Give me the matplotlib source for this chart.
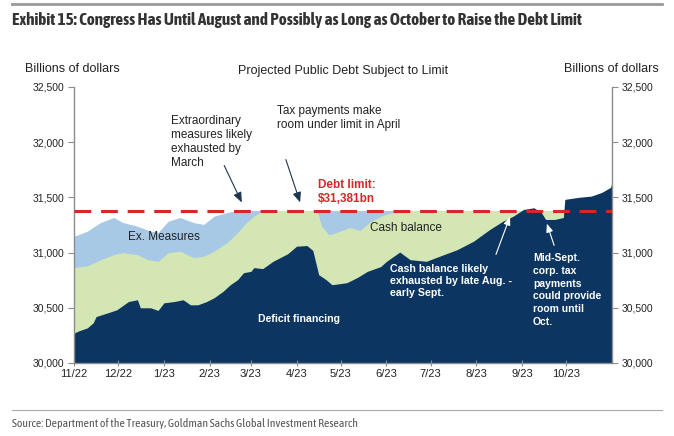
import matplotlib
matplotlib.use("Agg")
import matplotlib.pyplot as plt
from matplotlib import font_manager as fm
import pandas as pd

# ---------------- data (billions of dollars) ----------------
debt_limit = 31381

deficit_dates = ["2022-11-01", "2022-11-04", "2022-11-10", "2022-11-14", "2022-11-16", "2022-11-24",
                 "2022-11-30", "2022-12-08", "2022-12-14", "2022-12-16", "2022-12-23", "2022-12-28",
                 "2023-01-01", "2023-01-08", "2023-01-14", "2023-01-19", "2023-01-24", "2023-01-30",
                 "2023-02-04", "2023-02-10", "2023-02-15", "2023-02-20", "2023-02-24", "2023-03-01",
                 "2023-03-03", "2023-03-09", "2023-03-16", "2023-03-26", "2023-04-01", "2023-04-08",
                 "2023-04-12", "2023-04-16", "2023-04-21", "2023-04-25", "2023-05-05", "2023-05-12",
                 "2023-05-19", "2023-05-28", "2023-06-01", "2023-06-10", "2023-06-17", "2023-06-28",
                 "2023-07-07", "2023-07-19", "2023-07-30", "2023-08-10", "2023-08-19", "2023-08-26",
                 "2023-09-02", "2023-09-09", "2023-09-14", "2023-09-17", "2023-09-23", "2023-09-29",
                 "2023-09-30", "2023-10-09", "2023-10-18", "2023-10-25", "2023-10-31", "2023-11-01"]
deficit_top = [30270, 30290, 30318, 30364, 30421, 30455,
               30482, 30557, 30573, 30500, 30500, 30476,
               30545, 30557, 30573, 30527, 30527, 30557,
               30591, 30648, 30709, 30755, 30818, 30830,
               30864, 30855, 30921, 30990, 31058, 31064,
               31020, 30800, 30755, 30709, 30727, 30773,
               30830, 30873, 30921, 31005, 30936, 30921,
               30967, 31027, 31103, 31209, 31285, 31330,
               31391, 31406, 31364, 31300, 31300, 31318,
               31482, 31500, 31512, 31545, 31591, 31636]

cash_dates = ["2022-11-01", "2022-11-10", "2022-11-19", "2022-11-28", "2022-12-04", "2022-12-14",
              "2022-12-21", "2022-12-28", "2023-01-04", "2023-01-12", "2023-01-21", "2023-01-28",
              "2023-02-04", "2023-02-13", "2023-02-20", "2023-02-26", "2023-03-03", "2023-03-09",
              "2023-04-15", "2023-04-18", "2023-04-23", "2023-04-28", "2023-05-07", "2023-05-14",
              "2023-05-21", "2023-05-30", "2023-06-07", "2023-06-13", "2023-11-01"]
cash_top = [30864, 30880, 30936, 30982, 31000, 30982,
            30936, 30921, 31000, 31012, 30955, 30967,
            31012, 31091, 31182, 31273, 31330, 31381,
            31381, 31239, 31160, 31182, 31227, 31200,
            31280, 31340, 31370, 31381, 31381]

exm_dates = ["2022-11-01", "2022-11-10", "2022-11-19", "2022-11-28", "2022-12-04", "2022-12-14",
             "2022-12-23", "2022-12-28", "2023-01-04", "2023-01-12", "2023-01-21", "2023-01-28",
             "2023-02-04", "2023-02-13", "2023-02-20", "2023-11-01"]
exm_top = [31148, 31194, 31273, 31318, 31273, 31239,
           31194, 31182, 31285, 31318, 31273, 31255,
           31330, 31364, 31381, 31381]

month_ticks = ["2022-11-01", "2022-12-01", "2023-01-01", "2023-02-01", "2023-03-01", "2023-04-01",
               "2023-05-01", "2023-06-01", "2023-07-01", "2023-08-01", "2023-09-01", "2023-10-01"]
month_labels = ["11/22", "12/22", "1/23", "2/23", "3/23", "4/23",
                "5/23", "6/23", "7/23", "8/23", "9/23", "10/23"]
y_ticks = [30000, 30500, 31000, 31500, 32000, 32500]

TITLE = "Exhibit 15: Congress Has Until August and Possibly as Long as October to Raise the Debt Limit"
SOURCE = "Source: Department of the Treasury, Goldman Sachs Global Investment Research"

# ---------------- styling ----------------
NAVY = "#0c3561"
GREEN = "#d3e6b4"
LBLUE = "#a7c9e6"
RED = "#d9262a"
GRAY = "#8c8c8c"
TXT = "#222222"

plt.rcParams["font.family"] = ["Liberation Sans", "DejaVu Sans"]

# find a narrow/condensed face if installed, preferring one that has a bold weight
def _w(v):
    try:
        return int(v)
    except (TypeError, ValueError):
        return 700 if "bold" in str(v).lower() else 400

narrow = {}
for f in fm.fontManager.ttflist:
    n = f.name.lower()
    if "narrow" in n or "condensed" in n:
        narrow.setdefault(f.name, set()).add(_w(f.weight))
narrow_family = None
for name, ws in narrow.items():
    if max(ws) >= 600:
        narrow_family = name
        break
if narrow_family is None and narrow:
    narrow_family = next(iter(narrow))
if narrow_family is None:
    narrow_family = "Liberation Sans"

fig = plt.figure(figsize=(6.74, 4.36), dpi=100)
ax = fig.add_axes([74 / 674, 1 - 363 / 436, (612 - 74) / 674, (363 - 87) / 436])

d_def = pd.to_datetime(deficit_dates)
d_cash = pd.to_datetime(cash_dates)
d_exm = pd.to_datetime(exm_dates)

ax.fill_between(d_exm, 30000, exm_top, color=LBLUE, lw=0)
ax.fill_between(d_cash, 30000, cash_top, color=GREEN, lw=0)
ax.fill_between(d_def, 30000, deficit_top, color=NAVY, lw=0)
ax.axhline(debt_limit, color=RED, lw=2.2, dashes=(5.5, 3.2), zorder=5)

ax.set_xlim(pd.Timestamp("2022-11-01"), pd.Timestamp("2023-11-01"))
ax.set_ylim(30000, 32500)
ax.set_xticks(pd.to_datetime(month_ticks))
ax.set_xticklabels(month_labels, fontsize=8, color=TXT)
ax.set_yticks(y_ticks)
ax.set_yticklabels([f"{v:,}" for v in y_ticks], fontsize=7.5, color=TXT)
ax.tick_params(axis="y", direction="out", length=4, color=GRAY, pad=3,
               left=True, right=True, labelleft=True, labelright=True)
ax.tick_params(axis="x", direction="inout", length=4, color=GRAY, pad=2)
for s in ["left", "right", "bottom"]:
    ax.spines[s].set_color(GRAY)
    ax.spines[s].set_linewidth(1)
ax.spines["top"].set_visible(False)

# ---------------- annotations ----------------
H = 436
ax_kw = dict(xycoords="figure pixels", textcoords="figure pixels")

def fp(x, y):
    return (x, H - y)

ax.text(128, H - 237, "Ex. Measures", transform=None, fontsize=8.5, color=TXT, va="center")
ax.text(370, H - 228, "Cash balance", transform=None, fontsize=8.5, color=TXT, va="center")
ax.text(258, H - 319, "Deficit financing", transform=None, fontsize=7.6, color="white",
        fontweight="bold", va="center")
ax.text(318, H - 192, "Debt limit:\n$31,381bn", transform=None, fontsize=8.5, color=RED,
        fontweight="bold", va="center", linespacing=1.25)
ax.text(171, H - 142, "Extraordinary\nmeasures likely\nexhausted by\nMarch", transform=None,
        fontsize=8.5, color=TXT, va="center", linespacing=1.2)
ax.text(277, H - 118, "Tax payments make\nroom under limit in April", transform=None,
        fontsize=8.5, color=TXT, va="center", linespacing=1.2)
ax.text(390, H - 281, "Cash balance likely\nexhausted by late Aug. -\nearly Sept.", transform=None,
        fontsize=7.7, color="white", fontweight="bold", va="center", linespacing=1.3)
ax.text(533, H - 290, "Mid-Sept.\ncorp. tax\npayments\ncould provide\nroom until\nOct.",
        transform=None, fontsize=7.5, color="white", fontweight="bold", va="center", linespacing=1.35)

arrow_dark = dict(arrowstyle="-|>,head_length=0.6,head_width=0.25", color="#1e3550", lw=0.8)
arrow_white = dict(arrowstyle="-|>,head_length=0.5,head_width=0.2", color="white", lw=0.8)
ax.annotate("", xy=fp(243, 205), xytext=fp(223, 163), arrowprops=arrow_dark, **ax_kw)
ax.annotate("", xy=fp(301, 205), xytext=fp(285, 157), arrowprops=arrow_dark, **ax_kw)
ax.annotate("", xy=fp(511, 214), xytext=fp(495, 257), arrowprops=arrow_white, **ax_kw)
ax.annotate("", xy=fp(546, 221), xytext=fp(555, 248), arrowprops=arrow_white, **ax_kw)

# ---------------- figure texts ----------------
fig.text(25 / 674, 1 - 69 / 436, "Billions of dollars", fontsize=9, color=TXT, va="center")
fig.text(659 / 674, 1 - 69 / 436, "Billions of dollars", fontsize=9, color=TXT, va="center", ha="right")
fig.text(343 / 674, 1 - 71 / 436, "Projected Public Debt Subject to Limit", fontsize=9, color=TXT,
         va="center", ha="center")
t_title = fig.text(12 / 674, 1 - 20 / 436, TITLE, fontsize=10.5, color="#333333", fontweight="bold",
                   va="center", family=[narrow_family, "DejaVu Sans"])
t_src = fig.text(12 / 674, 1 - 423 / 436, SOURCE, fontsize=7.5, color="#555555", va="center",
                 family=[narrow_family, "DejaVu Sans"])
fig.add_artist(plt.Line2D([12 / 674, 662 / 674], [1 - 4 / 436, 1 - 4 / 436], color="#999999", lw=2,
                          transform=fig.transFigure))
fig.add_artist(plt.Line2D([12 / 674, 662 / 674], [1 - 410 / 436, 1 - 410 / 436], color="#aaaaaa", lw=0.8,
                          transform=fig.transFigure))

# fit title / source widths to the reference extents
renderer = fig.canvas.get_renderer()
for t, target in ((t_title, 576.0), (t_src, 343.0)):
    w = t.get_window_extent(renderer).width
    t.set_fontsize(t.get_fontsize() * target / w)

fig.savefig("out.png", dpi=100)
